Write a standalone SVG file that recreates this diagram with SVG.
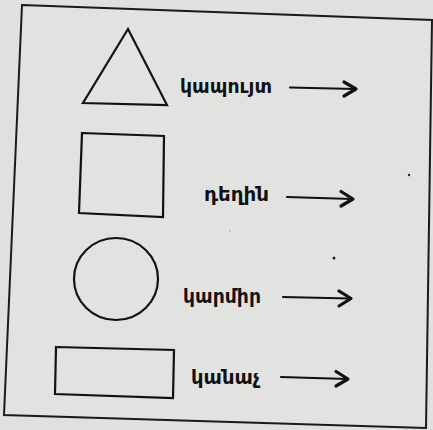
<svg xmlns="http://www.w3.org/2000/svg" width="433" height="430" viewBox="0 0 433 430">
<style>
.shape{fill:none;stroke:#111;stroke-width:2.2;stroke-linejoin:miter}
.lbl{font-family:"DejaVu Sans Condensed","DejaVu Sans","Noto Sans",sans-serif;font-weight:bold;font-size:20px;fill:#111}
.arr{fill:none;stroke:#111;stroke-width:2.2;stroke-linecap:round;stroke-linejoin:round}
.head{fill:none;stroke:#111;stroke-width:3.2;stroke-linecap:round;stroke-linejoin:round}
</style>
<rect width="433" height="430" fill="#e0e0df"/>
<polygon id="frame" points="22,5 432,20 426,428 4,415" fill="#e2e2e1" stroke="#1a1a1a" stroke-width="2"/>
<g id="triangle"><polygon class="shape" points="128,29 83,103 167,105"/></g>
<g id="square"><polygon class="shape" points="82,133 164,136 163,217 79,213"/></g>
<g id="circle"><ellipse class="shape" cx="116" cy="279" rx="42" ry="41"/></g>
<g id="rectangle"><polygon class="shape" points="56,347 174,350 173,398 55,394"/></g>
<g id="labels">
<text class="lbl" x="180" y="93" textLength="92" lengthAdjust="spacingAndGlyphs">կապույտ</text>
<text class="lbl" x="204" y="201" textLength="65" lengthAdjust="spacingAndGlyphs">դեղին</text>
<text class="lbl" x="183" y="303" textLength="78" lengthAdjust="spacingAndGlyphs">կարմիր</text>
<text class="lbl" x="191" y="384" textLength="69" lengthAdjust="spacingAndGlyphs">կանաչ</text>
</g>
<g id="connectors">
<path class="arr" d="M290,87.5 L355,89"/><path class="head" d="M344,82 L356,89 L344,96"/>
<path class="arr" d="M287,197 L352,199"/><path class="head" d="M341,191.5 L353,199 L341,206"/>
<path class="arr" d="M283,297 L350,298.5"/><path class="head" d="M339,291 L351,298.5 L339,306"/>
<path class="arr" d="M281,377 L347,379"/><path class="head" d="M336,371.5 L348,379 L336,386"/>
</g>
<g id="specks" fill="#222">
<circle cx="409" cy="175" r="1.2"/>
<circle cx="334" cy="258" r="1.5"/>
<circle cx="230" cy="231" r="0.8" fill="#999"/>
</g>
</svg>
